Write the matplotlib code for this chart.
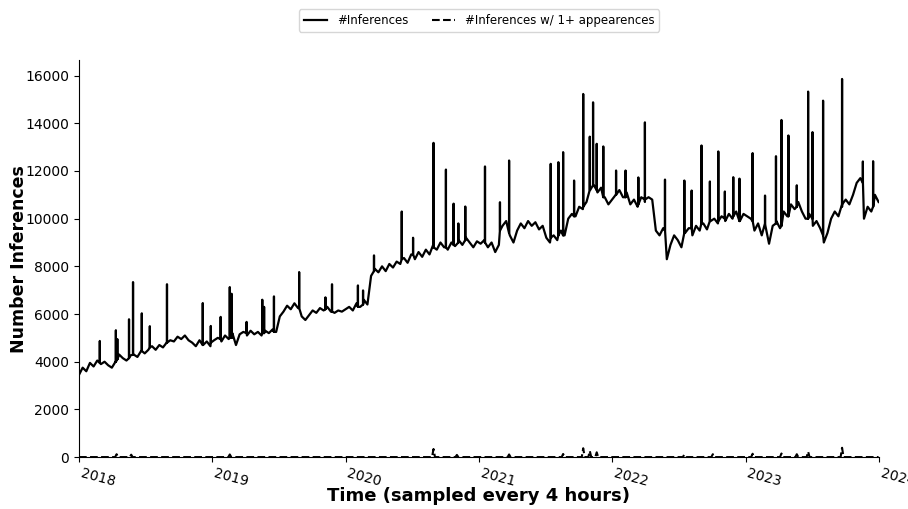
import numpy as np
import pandas as pd
import matplotlib
matplotlib.use("Agg")
import matplotlib.pyplot as plt
import matplotlib.dates as mdates

# Typical inference volume, one reading every 10 days from 2018-01-01
base_start = "2018-01-01"
base_step_days = 10
base_values = [
    # 2018
    3450, 3750, 3600, 3950, 3800, 4050, 3900, 4000, 3850, 3750,
    4000, 4300, 4150, 4050, 4250, 4300, 4200, 4450, 4350, 4500,
    4650, 4500, 4700, 4600, 4800, 4900, 4850, 5050, 4950, 5100,
    4900, 4800, 4650, 4900, 4700, 4850, 4650,
    # 2019
    4900, 5000, 4850, 5100, 4950, 5200, 4700, 5150, 5250, 5100,
    5300, 5150, 5250, 5100, 5300, 5200, 5350, 5250, 5900, 6100,
    6350, 6200, 6450, 6250, 5900, 5750, 5950, 6150, 6050, 6250,
    6150, 6300, 6100, 6050, 6150, 6100, 6200,
    # 2020
    6300, 6150, 6450, 6300, 6600, 6400, 7600, 7900, 7750, 8000,
    7800, 8100, 7950, 8200, 8100, 8350, 8150, 8500, 8300, 8600,
    8400, 8700, 8500, 8900, 8700, 9000, 8800, 8700, 9000, 8850,
    9100, 8900, 9200, 9000, 8800, 9050, 8950,
    # 2021
    9100, 8800, 9000, 8600, 8900, 9700, 9900, 9300, 9000, 9500,
    9800, 9600, 9900, 9700, 9850, 9550, 9700, 9200, 9000, 9300,
    9100, 9500, 9300, 10000, 10200, 10100, 10500, 10400, 10700, 11200,
    11400, 11100, 11300, 10900, 10600, 10800,
    # 2022
    11000, 11200, 10900, 11100, 10600, 10800, 10500, 10900, 10700, 10900,
    10800, 9500, 9300, 9600, 8300, 8900, 9300, 9100, 8800, 9400,
    9600, 9300, 9700, 9500, 9800, 9550, 9900, 10000, 9800, 10100,
    9900, 10200, 10000, 10300, 9900, 10200, 10100,
    # 2023
    10000, 9500, 9800, 9300, 9700, 8950, 9700, 9900, 9600, 10300,
    10100, 10600, 10400, 10700, 10300, 10000, 10200, 9700, 9900, 9600,
    9000, 9400, 10000, 10300, 10100, 10500, 10800, 10600, 11000, 11500,
    11700, 10000, 10500, 10300, 11000, 10700,
]

# Short bursts: date, surrounding level, peak
burst_dates = [
    "2018-02-27", "2018-04-12", "2018-04-16", "2018-05-18", "2018-05-29",
    "2018-06-22", "2018-07-14", "2018-08-30", "2018-12-06", "2018-12-28",
    "2019-01-24", "2019-02-18", "2019-02-23", "2019-04-05", "2019-05-18",
    "2019-05-23", "2019-06-19", "2019-08-27", "2019-11-07", "2019-11-25",
    "2020-02-04", "2020-02-18", "2020-03-19", "2020-06-03", "2020-07-04",
    "2020-08-29", "2020-10-02", "2020-10-23", "2020-11-05", "2020-11-24",
    "2021-01-17", "2021-02-27", "2021-03-24", "2021-07-16", "2021-08-06",
    "2021-08-19", "2021-09-18", "2021-10-13", "2021-10-31", "2021-11-09",
    "2021-11-19", "2021-12-07", "2022-01-11", "2022-02-06", "2022-03-13",
    "2022-03-31", "2022-05-25", "2022-07-17", "2022-08-06", "2022-09-02",
    "2022-09-25", "2022-10-18", "2022-11-05", "2022-11-28", "2022-12-15",
    "2023-01-20", "2023-02-23", "2023-03-25", "2023-04-09", "2023-04-28",
    "2023-05-21", "2023-06-21", "2023-07-03", "2023-08-01", "2023-09-22",
    "2023-11-18", "2023-12-16",
]
burst_levels = [
    3950, 4000, 4100, 4150, 4300,
    4450, 4600, 4800, 4700, 4800,
    4950, 5000, 5000, 5200, 5200,
    5200, 5250, 6250, 6200, 6100,
    6300, 6400, 7800, 8300, 8500,
    8800, 8800, 8900, 9000, 9100,
    9000, 9500, 9400, 9200, 9300,
    9300, 10100, 10500, 11200, 11400,
    11200, 10900, 11000, 10900, 10600,
    10800, 9500, 9400, 9600, 9800,
    9900, 9900, 10000, 10100, 9900,
    9900, 9800, 9800, 9700, 10100,
    10500, 10000, 10000, 9300, 10600,
    11500, 10500,
]
burst_peaks = [
    4870, 5320, 4950, 5780, 7340,
    6030, 5490, 7250, 6460, 5500,
    5880, 7130, 6850, 5670, 6600,
    6300, 6740, 7760, 6700, 7250,
    7200, 6990, 8460, 10300, 9200,
    13180, 12060, 10630, 9800, 10510,
    12190, 10690, 12440, 12300, 12370,
    12790, 11600, 15230, 13440, 14880,
    13140, 13030, 12020, 12020, 11730,
    14040, 11640, 11600, 11180, 13070,
    11560, 12820, 11140, 11740, 11680,
    12750, 10970, 12620, 14140, 13490,
    11400, 15330, 13630, 14950, 15860,
    12400, 12410,
]

# Inferences with at least one appearance (mostly zero)
appear_dates = [
    "2018-01-01", "2018-04-10", "2018-04-14", "2018-04-18", "2018-05-20",
    "2018-05-24", "2018-05-28", "2019-02-14", "2019-02-18", "2019-02-22",
    "2020-08-25", "2020-08-29", "2020-09-02", "2020-10-28", "2020-11-01",
    "2020-11-05", "2021-03-20", "2021-03-24", "2021-03-28", "2021-08-15",
    "2021-08-19", "2021-08-23", "2021-10-09", "2021-10-13", "2021-10-17",
    "2021-10-27", "2021-10-31", "2021-11-04", "2021-11-15", "2021-11-19",
    "2021-11-23", "2022-07-13", "2022-07-17", "2022-07-21", "2022-09-29",
    "2022-10-03", "2022-10-07", "2023-01-16", "2023-01-20", "2023-01-24",
    "2023-04-05", "2023-04-09", "2023-04-13", "2023-05-17", "2023-05-21",
    "2023-05-25", "2023-06-17", "2023-06-21", "2023-06-25", "2023-09-18",
    "2023-09-22", "2023-09-26", "2023-12-31",
]
appear_vals = [
    0, 0, 120, 0, 0,
    100, 0, 0, 110, 0,
    0, 340, 0, 0, 90,
    0, 0, 110, 0, 0,
    130, 0, 0, 370, 0,
    0, 260, 0, 0, 200,
    0, 0, 110, 0, 0,
    120, 0, 0, 140, 0,
    0, 150, 0, 0, 120,
    0, 0, 230, 0, 0,
    390, 0, 0,
]

# Assemble the main series: regular readings plus narrow bursts
base_t = pd.Timestamp(base_start) + pd.to_timedelta(
    np.arange(len(base_values)) * base_step_days, unit="D")
half = pd.Timedelta(hours=4)
times = list(base_t)
vals = list(base_values)
for d, lvl, pk in zip(burst_dates, burst_levels, burst_peaks):
    t = pd.Timestamp(d)
    times += [t - half, t, t + half]
    vals += [lvl, pk, lvl]
order = np.argsort(np.array(times, dtype="datetime64[ns]"))
main_t = np.array(times, dtype="datetime64[ns]")[order]
main_v = np.array(vals)[order]

app_t = pd.to_datetime(appear_dates)

fig = plt.figure(figsize=(9.08, 5.09), dpi=100)
ax = fig.add_axes([0.087, 0.102, 0.881, 0.780])

ax.plot(main_t, main_v, color="black", lw=1.6, label="#Inferences")
ax.plot(app_t, appear_vals, color="black", lw=1.5, ls="--",
        label="#Inferences w/ 1+ appearences")

ax.set_xlim(pd.Timestamp("2018-01-01"), pd.Timestamp("2024-01-01"))
ax.set_ylim(0, 16653)
ax.set_yticks(np.arange(0, 16001, 2000))
ax.xaxis.set_major_locator(mdates.YearLocator())
ax.xaxis.set_major_formatter(mdates.DateFormatter("%Y"))
for lab in ax.get_xticklabels():
    lab.set_rotation(-15)
    lab.set_ha("left")
    lab.set_va("top")
ax.tick_params(labelsize=10)

ax.spines["top"].set_visible(False)
ax.spines["right"].set_visible(False)

ax.set_xlabel("Time (sampled every 4 hours)", fontsize=13, fontweight="bold")
ax.xaxis.set_label_coords(0.5, -0.075)
ax.set_ylabel("Number Inferences", fontsize=12.5, fontweight="bold")
ax.yaxis.set_label_coords(-0.064, 0.5)

ax.legend(loc="upper center", bbox_to_anchor=(0.5, 1.143), ncol=2,
          fontsize=8.5, frameon=True)

fig.savefig("out.png", dpi=100)
